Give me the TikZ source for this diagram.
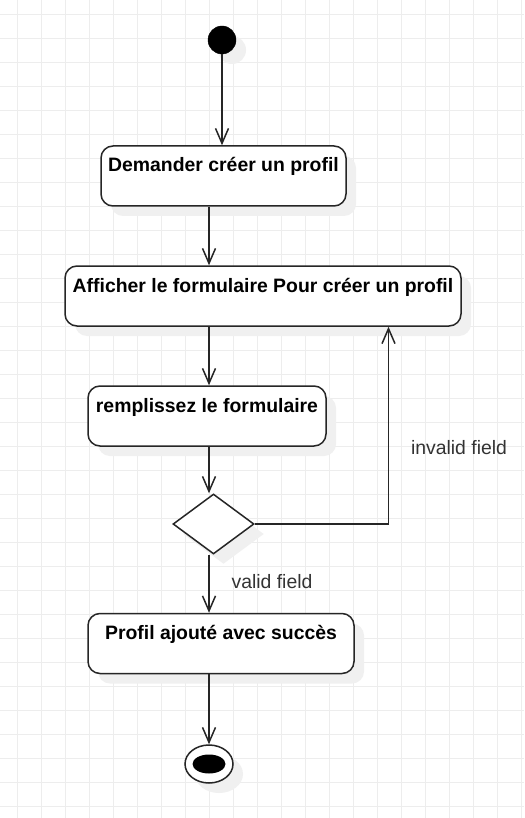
\documentclass[tikz,border=0pt]{standalone}
\usepackage{fontspec}
\setmainfont{Liberation Sans}
\usetikzlibrary{shapes.geometric,arrows.meta,shadows,calc}

\definecolor{linec}{HTML}{262626}
\definecolor{gridc}{HTML}{EDEDED}
\definecolor{labelc}{HTML}{333333}
\newcommand{\diagfont}{\fontsize{19.4}{23}\selectfont}

\tikzset{
    gridline/.style={gridc, line width=1pt},
    softshadow/.style={drop shadow={shadow xshift=10pt, shadow yshift=-10pt, fill=black!6, opacity=1}},
    activity/.style={draw=linec, line width=1.5pt, rounded corners=12pt, fill=white, softshadow,
        font=\bfseries\diagfont, text height=20pt, text depth=28pt, inner ysep=6pt, inner xsep=0pt},
    decision/.style={diamond, draw=linec, line width=1.5pt, fill=white, softshadow,
        minimum width=81pt, minimum height=60pt, inner sep=0pt},
    initial/.style={circle, draw=black, fill=black, minimum size=28pt, inner sep=0pt, softshadow},
    final/.style={ellipse, draw=linec, line width=1.5pt, fill=white, minimum width=48pt, minimum height=38pt, inner sep=0pt, softshadow},
    finaldot/.style={ellipse, fill=black, minimum width=33pt, minimum height=19pt, inner sep=0pt},
    guard/.style={text=labelc, font=\diagfont, inner sep=0pt},
    flow/.style={draw=linec, line width=1.5pt, -{Straight Barb[length=15pt, width=13pt]}}
}

\begin{document}
\begin{tikzpicture}[x=1pt, y=-1pt]
    \useasboundingbox (0,0) rectangle (524,818);

    % Grid
    \fill[white] (0,0) rectangle (524,818);
    \foreach \i in {0,...,21} \draw[gridline] ({17.3+24*\i},0) -- ++(0,818);
    \foreach \j in {0,...,33} \draw[gridline] (0,{14.3+24*\j}) -- ++(524,0);

    % Activities
    \node[initial] (start) at (222,40) {};
    \node[activity, minimum width=245pt] (ask) at (223.5,176) {Demander créer un profil};
    \node[activity, minimum width=396pt] (show) at (263,296) {Afficher le formulaire Pour créer un profil};
    \node[activity, minimum width=238pt] (fill) at (207,416) {remplissez le formulaire};
    \node[decision] (check) at (213.5,524) {};
    \node[activity, minimum width=266pt] (added) at (221,643.5) {Profil ajouté avec succès};
    \node[final] (finish) at (209,764) {};
    \node[finaldot] (finishDot) at (finish) {};

    \coordinate (axis) at (209,0);
    \coordinate (loop) at (388.5,0);

    % Flows
    \draw[flow] (start.south) -- (ask.north -| start);
    \draw[flow] (ask.south -| axis) -- (show.north -| axis);
    \draw[flow] (show.south -| axis) -- (fill.north -| axis);
    \draw[flow] (fill.south -| axis) -- (check.north -| axis);
    \draw[flow] (check.south -| axis) -- (added.north -| axis);
    \draw[flow] (added.south -| axis) -- (finish.north);
    \draw[flow] (check.east) -| (show.south -| loop);

    % Guards
    \node[guard] (invalid) at (459,448) {invalid field};
    \node[guard] (valid) at (272,582) {valid field};
\end{tikzpicture}
\end{document}
